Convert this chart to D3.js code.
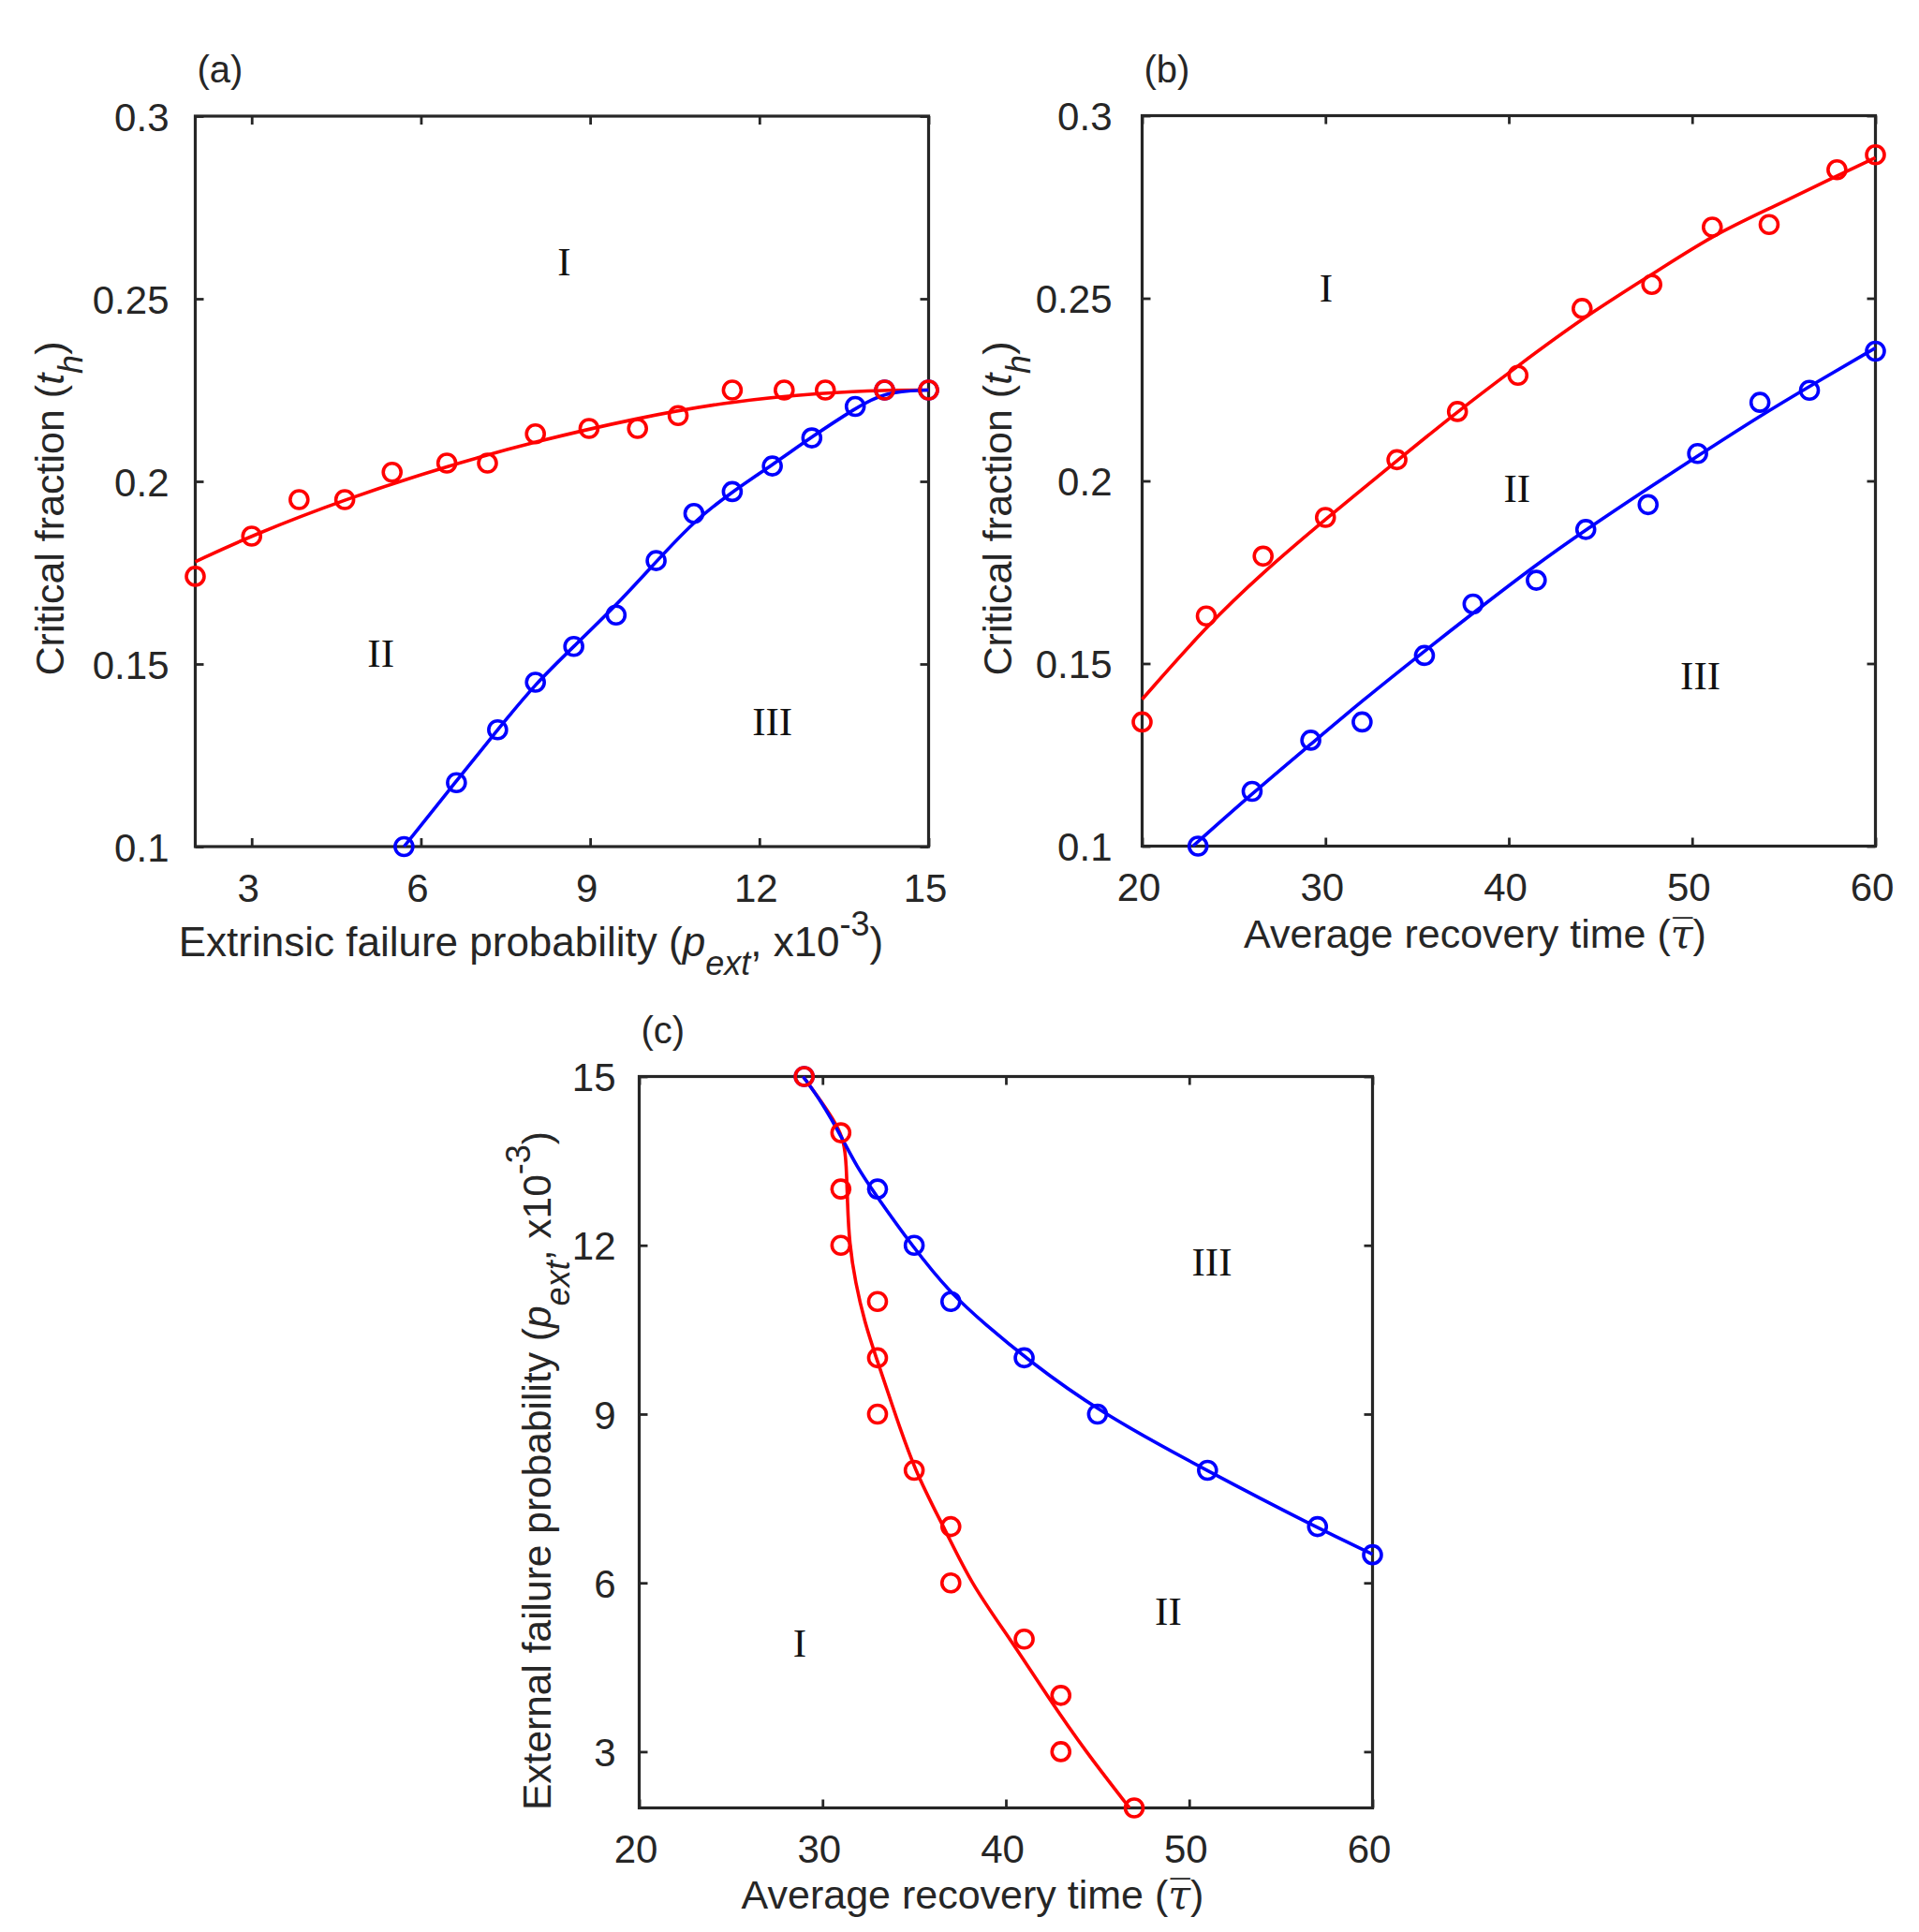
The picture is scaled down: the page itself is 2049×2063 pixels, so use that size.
<!DOCTYPE html>
<html>
<head>
<meta charset="utf-8">
<script src="https://cdn.jsdelivr.net/npm/d3@7"></script>
<style>
  body { margin: 0; background: #fff; }
  text { fill: #262626; }
</style>
</head>
<body>
<div id="chart"></div>
<script>
'use strict';

// ---- panel (a): critical fraction vs extrinsic failure probability ----
const aRedX = [2.0, 3.0, 3.84, 4.65, 5.49, 6.46, 7.18, 8.03, 8.98, 9.84, 10.56, 11.52, 12.44, 13.17, 14.22, 15.0];
const aRedY = [0.174, 0.185, 0.195, 0.195, 0.2025, 0.205, 0.205, 0.213, 0.2145, 0.2145, 0.218, 0.225, 0.225, 0.225, 0.225, 0.225];
const aRedFitX = [2.0, 3.0, 4.65, 6.46, 8.03, 9.84, 11.52, 13.17, 14.22, 15.0];
const aRedFitY = [0.178, 0.1852, 0.1951, 0.2042, 0.2109, 0.2174, 0.222, 0.2243, 0.225, 0.225];
const aBlueX = [5.7, 6.63, 7.36, 8.03, 8.71, 9.46, 10.17, 10.84, 11.52, 12.23, 12.93, 13.7, 14.22, 15.0];
const aBlueY = [0.1, 0.1175, 0.132, 0.145, 0.1548, 0.1634, 0.1783, 0.1912, 0.1972, 0.2042, 0.2119, 0.2205, 0.225, 0.225];
const aBlueFitX = [5.7, 6.63, 7.36, 8.03, 8.71, 9.46, 10.17, 10.84, 11.52, 12.23, 12.93, 13.7, 14.22, 15.0];
const aBlueFitY = [0.1, 0.118, 0.132, 0.1446, 0.1548, 0.166, 0.178, 0.1891, 0.1972, 0.2045, 0.2122, 0.22, 0.2245, 0.225];

// ---- panel (b): critical fraction vs average recovery time ----
const bRedX = [20.0, 23.5, 26.6, 30.0, 33.9, 37.2, 40.5, 44.0, 47.8, 51.1, 54.2, 57.9, 60.0];
const bRedY = [0.134, 0.163, 0.1794, 0.19, 0.2058, 0.219, 0.2289, 0.2472, 0.2538, 0.2695, 0.2702, 0.2852, 0.2893];
const bRedFitX = [20.0, 23.5, 26.6, 30.0, 33.9, 37.2, 40.5, 44.0, 47.8, 51.1, 54.2, 57.9, 60.0];
const bRedFitY = [0.1402, 0.1602, 0.175, 0.1895, 0.2055, 0.219, 0.2315, 0.2445, 0.2565, 0.2672, 0.2745, 0.2835, 0.2885];
const bBlueX = [23.05, 26.0, 29.2, 32.0, 35.4, 38.05, 41.5, 44.2, 47.6, 50.3, 53.7, 56.4, 60.0];
const bBlueY = [0.1, 0.115, 0.129, 0.134, 0.1522, 0.1663, 0.1728, 0.1867, 0.1935, 0.2075, 0.2215, 0.2248, 0.2355];
const bBlueFitX = [22.77, 26.0, 29.2, 32.0, 35.4, 38.05, 41.5, 44.2, 47.6, 50.3, 53.7, 56.4, 60.0];
const bBlueFitY = [0.1, 0.1144, 0.1279, 0.1398, 0.1534, 0.1638, 0.1771, 0.1866, 0.198, 0.2068, 0.2178, 0.2259, 0.2364];

// ---- panel (c): external failure probability vs average recovery time ----
const cRedX = [29, 31, 31, 31, 33, 33, 33, 35, 37, 37, 41, 43, 43, 47];
const cRedY = [15, 14, 13, 12, 11, 10, 9, 8, 7, 6, 5, 4, 3, 2];
const cRedFitX = [28.94, 29.95, 30.76, 31.17, 31.3, 31.36, 31.46, 31.79, 32.3, 32.93, 33.74, 35.01, 36.72, 38.13, 40.24, 42.28, 44.31, 46.75];
const cRedFitY = [15.0, 14.55, 14.15, 13.85, 13.45, 12.75, 12.04, 11.34, 10.63, 10.0, 9.22, 7.99, 6.93, 5.97, 5.0, 3.98, 3.02, 2.0];
const cBlueX = [29, 33, 35, 37, 41, 45, 51, 57, 60];
const cBlueY = [15, 13, 12, 11, 10, 9, 8, 7, 6.5];
const cBlueFitX = [28.94, 29.95, 31.03, 31.84, 32.93, 34.93, 36.94, 38.89, 41.06, 45.01, 50.98, 56.96, 60.0];
const cBlueFitY = [15.0, 14.55, 13.93, 13.41, 12.88, 11.97, 11.16, 10.59, 10.0, 9.05, 7.99, 6.98, 6.51];

// tick values
const fracTicks = [0.1, 0.15, 0.2, 0.25, 0.3];
const pextTicks = [3, 6, 9, 12, 15];
const tauTicks = [20, 30, 40, 50, 60];

const RED = '#ff0000';
const BLUE = '#0000ff';
const INK = '#262626';
const SANS = '"Liberation Sans", Arial, sans-serif';
const SERIF = '"Liberation Serif", "Times New Roman", serif';

const W = 2049;
const H = 2063;

const svg = d3
  .select('#chart')
  .append('svg')
  .attr('width', W)
  .attr('height', H)
  .attr('viewBox', `0 0 ${W} ${H}`)
  .style('background', '#fff');

const zip = (xs, ys) => xs.map((x, i) => [x, ys[i]]);

// text with italic / sub / sup pieces
const richText = (parent, parts, size) => {
  const t = parent.append('text').attr('font-size', size).style('font-family', SANS);
  let level = 0;
  parts.forEach((p) => {
    const target = p.sub ? 20 : p.sup ? -22 : 0;
    const s = t.append('tspan').attr('dy', target - level).text(p.t);
    level = target;
    if (p.sub || p.sup) s.attr('font-size', 36);
    if (p.it) s.style('font-style', 'italic');
    if (p.family) s.style('font-family', p.family);
  });
  return t;
};

const drawPanel = (o) => {
  const x = d3.scaleLinear().domain(o.xDomain).range([0, o.width]);
  const y = d3.scaleLinear().domain(o.yDomain).range([o.height, 0]);

  const g = svg.append('g').attr('transform', `translate(${o.left}, ${o.top})`);

  const styleAxis = (sel) => {
    sel.select('.domain').remove();
    sel.selectAll('line').attr('stroke', INK).attr('stroke-width', 2.8);
    sel.selectAll('text').attr('font-size', 42).attr('fill', INK).style('font-family', SANS);
  };

  g.append('g')
    .attr('transform', `translate(0, ${o.height})`)
    .call(d3.axisBottom(x).tickValues(o.xTicks).tickSize(-9).tickPadding(29))
    .call(styleAxis)
    .call((s) => s.selectAll('text').attr('x', -4));

  g.append('g')
    .call(d3.axisLeft(y).tickValues(o.yTicks).tickFormat(o.yFormat).tickSize(-9).tickPadding(o.yPad))
    .call(styleAxis)
    .call((s) => s.selectAll('text').attr('dy', '0.36em'));

  g.append('g')
    .call(d3.axisTop(x).tickValues(o.xTicks).tickSize(-9).tickFormat(''))
    .call(styleAxis);

  g.append('g')
    .attr('transform', `translate(${o.width}, 0)`)
    .call(d3.axisRight(y).tickValues(o.yTicks).tickSize(-9).tickFormat(''))
    .call(styleAxis);

  g.append('rect')
    .attr('width', o.width)
    .attr('height', o.height)
    .attr('fill', 'none')
    .attr('stroke', INK)
    .attr('stroke-width', 3.2);

  const line = d3.line().x((d) => x(d[0])).y((d) => y(d[1])).curve(d3.curveBasis);

  // fits first, then markers (red markers on top)
  o.fits.forEach((f) => {
    g.append('path')
      .datum(zip(f.x, f.y))
      .attr('fill', 'none')
      .attr('stroke', f.color)
      .attr('stroke-width', 3.6)
      .attr('stroke-linejoin', 'round')
      .attr('d', line);
  });

  o.marks.forEach((m) => {
    g.append('g')
      .selectAll('circle')
      .data(zip(m.x, m.y))
      .enter()
      .append('circle')
      .attr('cx', (d) => x(d[0]))
      .attr('cy', (d) => y(d[1]))
      .attr('r', 9.5)
      .attr('fill', 'none')
      .attr('stroke', m.color)
      .attr('stroke-width', 3.6);
  });

  o.regions.forEach((r) => {
    g.append('text')
      .attr('x', x(r.x))
      .attr('y', y(r.y) + 14)
      .attr('text-anchor', 'middle')
      .attr('font-size', 43)
      .style('font-family', SERIF)
      .style('fill', '#111')
      .text(r.t);
  });

  svg.append('text')
    .attr('x', o.left + 2)
    .attr('y', o.top - 36)
    .attr('font-size', 40)
    .style('font-family', SANS)
    .text(o.tag);
};

const fracFormat = (d) => String(d);

drawPanel({
  left: 208.5, top: 124, width: 783, height: 780,
  xDomain: [2, 15], yDomain: [0.1, 0.3],
  xTicks: pextTicks, yTicks: fracTicks, yFormat: fracFormat, yPad: 28,
  fits: [
    { x: aRedFitX, y: aRedFitY, color: RED },
    { x: aBlueFitX, y: aBlueFitY, color: BLUE },
  ],
  marks: [
    { x: aBlueX, y: aBlueY, color: BLUE },
    { x: aRedX, y: aRedY, color: RED },
  ],
  regions: [
    { t: 'I', x: 8.54, y: 0.26 },
    { t: 'II', x: 5.29, y: 0.1528 },
    { t: 'III', x: 12.23, y: 0.134 },
  ],
  tag: '(a)',
});

drawPanel({
  left: 1219.5, top: 123.5, width: 783, height: 780,
  xDomain: [20, 60], yDomain: [0.1, 0.3],
  xTicks: tauTicks, yTicks: fracTicks, yFormat: fracFormat, yPad: 32,
  fits: [
    { x: bRedFitX, y: bRedFitY, color: RED },
    { x: bBlueFitX, y: bBlueFitY, color: BLUE },
  ],
  marks: [
    { x: bBlueX, y: bBlueY, color: BLUE },
    { x: bRedX, y: bRedY, color: RED },
  ],
  regions: [
    { t: 'I', x: 30.03, y: 0.2528 },
    { t: 'II', x: 40.45, y: 0.1978 },
    { t: 'III', x: 50.45, y: 0.1465 },
  ],
  tag: '(b)',
});

drawPanel({
  left: 682.5, top: 1149.5, width: 783, height: 781,
  xDomain: [20, 60], yDomain: [2, 15],
  xTicks: tauTicks, yTicks: pextTicks, yFormat: (d) => String(d), yPad: 25,
  fits: [
    { x: cRedFitX, y: cRedFitY, color: RED },
    { x: cBlueFitX, y: cBlueFitY, color: BLUE },
  ],
  marks: [
    { x: cBlueX, y: cBlueY, color: BLUE },
    { x: cRedX, y: cRedY, color: RED },
  ],
  regions: [
    { t: 'III', x: 51.24, y: 11.7 },
    { t: 'II', x: 48.86, y: 5.48 },
    { t: 'I', x: 28.76, y: 4.92 },
  ],
  tag: '(c)',
});

// axis titles
const pextParts = (lead) => [
  { t: lead + ' (' },
  { t: 'p', it: true },
  { t: 'ext', it: true, sub: true },
  { t: ', x10' },
  { t: '-3', sup: true },
  { t: ')' },
];
const tauParts = [
  { t: 'Average recovery time (' },
  { t: 'τ\u0305', it: true, family: '"DejaVu Serif", serif' },
  { t: ')' },
];
const fracParts = [
  { t: 'Critical fraction (' },
  { t: 't', it: true },
  { t: 'h', it: true, sub: true },
  { t: ')' },
];

richText(svg, pextParts('Extrinsic failure probability'), 44)
  .attr('x', 567).attr('y', 1020.7).attr('text-anchor', 'middle');
richText(svg, tauParts, 43)
  .attr('x', 1575).attr('y', 1011.7).attr('text-anchor', 'middle');
richText(svg, tauParts, 43)
  .attr('x', 1038.5).attr('y', 2038.3).attr('text-anchor', 'middle');

richText(svg, fracParts, 43)
  .attr('transform', 'translate(68.3, 543) rotate(-90)').attr('text-anchor', 'middle');
richText(svg, fracParts, 43)
  .attr('transform', 'translate(1080, 543) rotate(-90)').attr('text-anchor', 'middle');
richText(svg, pextParts('External failure probability'), 42.5)
  .attr('transform', 'translate(588, 1933) rotate(-90)').attr('text-anchor', 'start');
</script>
</body>
</html>
